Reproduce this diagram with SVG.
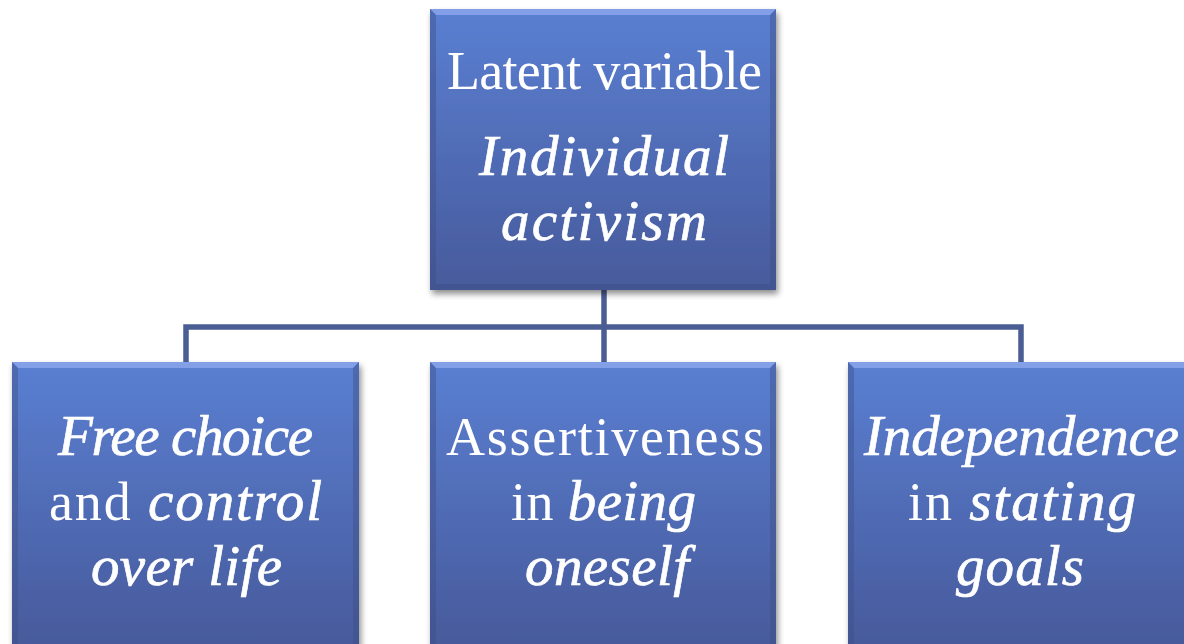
<svg xmlns="http://www.w3.org/2000/svg" width="1184" height="644" viewBox="0 0 1184 644">
<defs>
<linearGradient id="fill" x1="0" y1="0" x2="0" y2="1">
<stop offset="0" stop-color="#5a7fd2"/>
<stop offset="1" stop-color="#475a9b"/>
</linearGradient>
<linearGradient id="fillTall" gradientUnits="userSpaceOnUse" x1="0" y1="362" x2="0" y2="644">
<stop offset="0" stop-color="#5a7fd2"/>
<stop offset="1" stop-color="#475a9b"/>
</linearGradient>
<filter id="shadow" x="-10%" y="-10%" width="125%" height="125%">
<feGaussianBlur in="SourceAlpha" stdDeviation="3"/>
<feOffset dx="2" dy="4" result="b"/>
<feComponentTransfer><feFuncA type="linear" slope="0.45"/></feComponentTransfer>
<feMerge><feMergeNode/><feMergeNode in="SourceGraphic"/></feMerge>
</filter>
</defs>
<style>
.conn{fill:none;stroke:#4a5e94;stroke-width:5.5;stroke-linejoin:miter}
.t{font-family:"Liberation Serif","DejaVu Serif",serif;font-size:54px;fill:#ffffff;text-anchor:middle}
.i{font-style:italic;font-size:57px;stroke:#ffffff;stroke-width:0.7px}
.top{fill:#86a3ea;opacity:0.9}
.side{fill:#3f5088;opacity:0.45}
</style>
<rect width="1184" height="644" fill="#ffffff"/>
<g id="connectors">
<path class="conn" d="M604 290 V362"/>
<path class="conn" d="M186 362 V327 H1021 V362"/>
</g>
<g id="node-top" filter="url(#shadow)">
<rect x="430" y="9" width="346" height="281" fill="url(#fill)"/>
<polygon class="top" points="430,9 776,9 770,15 436,15"/>
<polygon class="side" points="430,9 436,15 436,284 430,290"/>
<polygon class="side" points="776,9 770,15 770,284 776,290"/>
<polygon class="side" points="430,290 436,284 770,284 776,290"/>
<text class="t" x="604.5" y="89" textLength="315" lengthAdjust="spacing">Latent variable</text>
<text class="t i" x="604" y="175" textLength="250" lengthAdjust="spacing">Individual</text>
<text class="t i" x="604" y="240" textLength="206" lengthAdjust="spacing">activism</text>
</g>
<g id="node-free-choice" filter="url(#shadow)">
<rect x="12" y="362" width="347" height="290" fill="url(#fillTall)"/>
<polygon class="top" points="12,362 359,362 353,368 18,368"/>
<polygon class="side" points="12,362 18,368 18,652 12,652"/>
<polygon class="side" points="359,362 353,368 353,652 359,652"/>
<text class="t i" x="185.5" y="455" textLength="255" lengthAdjust="spacing">Free choice</text>
<text class="t" x="185.5" y="520" textLength="273" lengthAdjust="spacing">and <tspan class="i">control</tspan></text>
<text class="t i" x="186.5" y="585" textLength="191" lengthAdjust="spacing">over life</text>
</g>
<g id="node-assertiveness" filter="url(#shadow)">
<rect x="430" y="362" width="346" height="290" fill="url(#fillTall)"/>
<polygon class="top" points="430,362 776,362 770,368 436,368"/>
<polygon class="side" points="430,362 436,368 436,652 430,652"/>
<polygon class="side" points="776,362 770,368 770,652 776,652"/>
<text class="t" x="605" y="455" textLength="318" lengthAdjust="spacing">Assertiveness</text>
<text class="t" x="603.5" y="520" textLength="185" lengthAdjust="spacing">in <tspan class="i">being</tspan></text>
<text class="t i" x="607" y="585" textLength="164" lengthAdjust="spacing">oneself</text>
</g>
<g id="node-independence" filter="url(#shadow)">
<rect x="848" y="362" width="346" height="290" fill="url(#fillTall)"/>
<polygon class="top" points="848,362 1194,362 1188,368 854,368"/>
<polygon class="side" points="848,362 854,368 854,652 848,652"/>
<text class="t i" x="1021.5" y="455" textLength="315" lengthAdjust="spacing">Independence</text>
<text class="t" x="1022" y="520" textLength="228" lengthAdjust="spacing">in <tspan class="i">stating</tspan></text>
<text class="t i" x="1020" y="585" textLength="128" lengthAdjust="spacing">goals</text>
</g>
</svg>
